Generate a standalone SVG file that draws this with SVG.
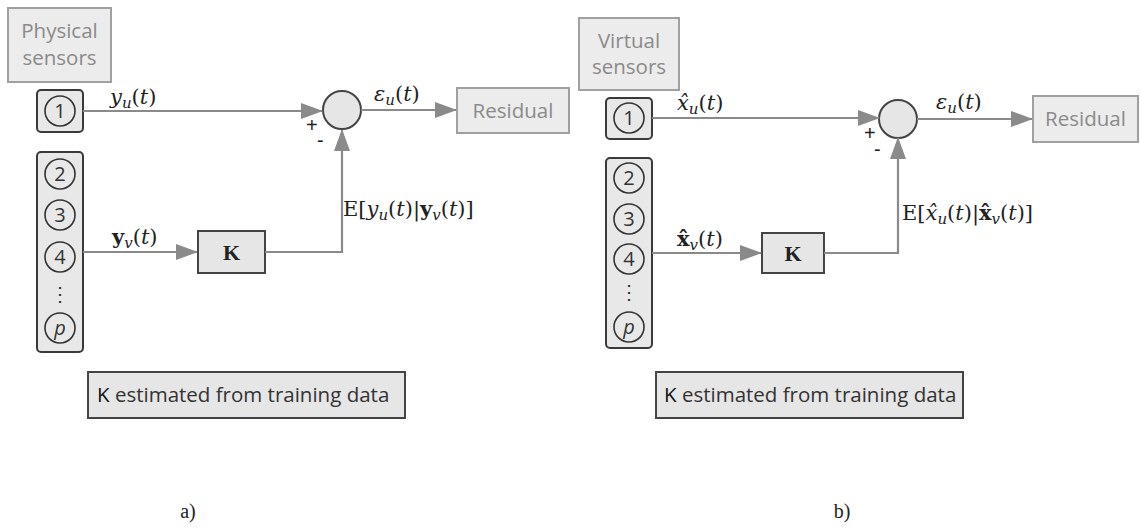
<svg xmlns="http://www.w3.org/2000/svg" width="1141" height="532" viewBox="0 0 1141 532">
<style>
.lbl{fill:#ececec;stroke:#a0a0a0;stroke-width:2}
.lt{font-family:"Open Sans","Liberation Sans",sans-serif;font-size:20.5px;fill:#8a8a8a}
.sb{fill:#e8e8e8;stroke:#3a3a3a;stroke-width:2}
.c{fill:none;stroke:#333;stroke-width:1.6}
.ct{font-family:"Open Sans","Liberation Sans",sans-serif;font-size:20px;fill:#333;text-anchor:middle}
.cp{font-family:"Open Sans","Liberation Sans",sans-serif;font-size:20px;fill:#333;text-anchor:middle;font-style:italic}
.sum{fill:#e6e6e6;stroke:#444;stroke-width:2}
.kb{fill:#e6e6e6;stroke:#444;stroke-width:2}
.kt{font-family:"Liberation Serif","DejaVu Serif",serif;font-size:22px;font-weight:bold;fill:#222;text-anchor:middle}
.conn{fill:none;stroke:#8a8a8a;stroke-width:2.2}
.m{font-family:"DejaVu Serif","Liberation Serif",serif;font-size:21px;fill:#222}
.i{font-style:italic}
.b{font-weight:bold}
.sub{font-size:15px}
.pm{font-family:"Liberation Sans",sans-serif;font-size:20px;fill:#222}
.est{fill:#e6e6e6;stroke:#444;stroke-width:2}
.et{font-family:"Open Sans","Liberation Sans",sans-serif;font-size:20.5px;fill:#333}
.cap{font-family:"Liberation Serif",serif;font-size:20px;fill:#222;text-anchor:middle}
</style>
<defs>
<marker id="ah" markerUnits="userSpaceOnUse" markerWidth="22" markerHeight="16" refX="21" refY="8" orient="auto">
<path d="M0,0 L22,8 L0,16 z" fill="#8a8a8a"/>
</marker>
</defs>
<rect width="1141" height="532" fill="#fff"/>

<!-- Panel a -->
<g id="phys-label"><rect class="lbl" x="8" y="8" width="103" height="74"/><text class="lt" x="59.5" y="38" text-anchor="middle">Physical</text><text class="lt" x="59.5" y="65" text-anchor="middle">sensors</text></g>
<g id="a-s1"><rect class="sb" x="37" y="90" width="46" height="42" rx="4"/><circle class="c" cx="60" cy="111" r="15"/><text class="ct" x="60" y="118">1</text></g>
<g id="a-s2"><rect class="sb" x="37" y="152" width="46" height="200" rx="4"/>
<circle class="c" cx="60" cy="174" r="15"/><text class="ct" x="60" y="181">2</text>
<circle class="c" cx="60" cy="215" r="15"/><text class="ct" x="60" y="222">3</text>
<circle class="c" cx="60" cy="257" r="15"/><text class="ct" x="60" y="264">4</text>
<text class="ct" x="60" y="301">⋮</text>
<circle class="c" cx="60" cy="328" r="15"/><text class="cp" x="60" y="335">p</text></g>
<g id="a-sum"><circle class="sum" cx="342" cy="110" r="19"/><text class="pm" x="306" y="132">+</text><text class="pm" x="317" y="147">-</text></g>
<g id="a-res"><rect class="lbl" x="457" y="88" width="112" height="45"/><text class="lt" x="513" y="118" text-anchor="middle">Residual</text></g>
<g id="a-k"><rect class="kb" x="198" y="231" width="67" height="42"/><text class="kt" x="231.5" y="260">K</text></g>
<g id="a-est"><rect class="est" x="88" y="372" width="317" height="46"/><text class="et" x="97" y="402"><tspan fill="#111">K</tspan> estimated from training data</text></g>
<g id="a-conn">
<path class="conn" d="M83,111 H322" marker-end="url(#ah)"/>
<path class="conn" d="M361,110 H456" marker-end="url(#ah)"/>
<path class="conn" d="M83,252 H197" marker-end="url(#ah)"/>
<path class="conn" d="M265,252 H342 V130" marker-end="url(#ah)"/>
</g>
<g id="a-labels">
<text class="m" x="110" y="104"><tspan class="i">y</tspan><tspan class="sub i" dy="4">u</tspan><tspan dy="-4">(</tspan><tspan class="i">t</tspan>)</text>
<text class="m" x="374" y="101"><tspan class="i">ε</tspan><tspan class="sub i" dy="4">u</tspan><tspan dy="-4">(</tspan><tspan class="i">t</tspan>)</text>
<text class="m" x="112" y="244"><tspan class="b">y</tspan><tspan class="sub i" dy="4">v</tspan><tspan dy="-4">(</tspan><tspan class="i">t</tspan>)</text>
<text class="m" x="343" y="216">E[<tspan class="i">y</tspan><tspan class="sub i" dy="4">u</tspan><tspan dy="-4">(</tspan><tspan class="i">t</tspan>)|<tspan class="b">y</tspan><tspan class="sub i" dy="4">v</tspan><tspan dy="-4">(</tspan><tspan class="i">t</tspan>)]</text>
</g>
<text class="cap" x="188" y="518">a)</text>

<!-- Panel b -->
<g id="virt-label"><rect class="lbl" x="579" y="18" width="100" height="72"/><text class="lt" x="629" y="48" text-anchor="middle">Virtual</text><text class="lt" x="629" y="74" text-anchor="middle">sensors</text></g>
<g id="b-s1"><rect class="sb" x="606" y="98" width="46" height="41" rx="4"/><circle class="c" cx="629" cy="118" r="15"/><text class="ct" x="629" y="125">1</text></g>
<g id="b-s2"><rect class="sb" x="606" y="158" width="46" height="190" rx="4"/>
<circle class="c" cx="629" cy="178" r="15"/><text class="ct" x="629" y="185">2</text>
<circle class="c" cx="629" cy="219" r="15"/><text class="ct" x="629" y="226">3</text>
<circle class="c" cx="629" cy="259" r="15"/><text class="ct" x="629" y="266">4</text>
<text class="ct" x="629" y="299">⋮</text>
<circle class="c" cx="629" cy="327" r="15"/><text class="cp" x="629" y="334">p</text></g>
<g id="b-sum"><circle class="sum" cx="898" cy="119" r="19"/><text class="pm" x="864" y="140">+</text><text class="pm" x="874" y="156">-</text></g>
<g id="b-res"><rect class="lbl" x="1033" y="96" width="105" height="46"/><text class="lt" x="1085.5" y="126" text-anchor="middle">Residual</text></g>
<g id="b-k"><rect class="kb" x="762" y="233" width="62" height="40"/><text class="kt" x="793" y="261">K</text></g>
<g id="b-est"><rect class="est" x="656" y="372" width="307" height="46"/><text class="et" x="664" y="402"><tspan fill="#111">K</tspan> estimated from training data</text></g>
<g id="b-conn">
<path class="conn" d="M652,118 H879" marker-end="url(#ah)"/>
<path class="conn" d="M917,119 H1032" marker-end="url(#ah)"/>
<path class="conn" d="M652,253 H761" marker-end="url(#ah)"/>
<path class="conn" d="M824,253 H898 V138" marker-end="url(#ah)"/>
</g>
<g id="b-labels">
<text class="m" x="677" y="110"><tspan class="i">x̂</tspan><tspan class="sub i" dy="4">u</tspan><tspan dy="-4">(</tspan><tspan class="i">t</tspan>)</text>
<text class="m" x="936" y="109"><tspan class="i">ε</tspan><tspan class="sub i" dy="4">u</tspan><tspan dy="-4">(</tspan><tspan class="i">t</tspan>)</text>
<text class="m" x="677" y="246"><tspan class="b">x̂</tspan><tspan class="sub i" dy="4">v</tspan><tspan dy="-4">(</tspan><tspan class="i">t</tspan>)</text>
<text class="m" x="902" y="220">E[<tspan class="i">x̂</tspan><tspan class="sub i" dy="4">u</tspan><tspan dy="-4">(</tspan><tspan class="i">t</tspan>)|<tspan class="b">x̂</tspan><tspan class="sub i" dy="4">v</tspan><tspan dy="-4">(</tspan><tspan class="i">t</tspan>)]</text>
</g>
<text class="cap" x="842" y="518">b)</text>
</svg>
